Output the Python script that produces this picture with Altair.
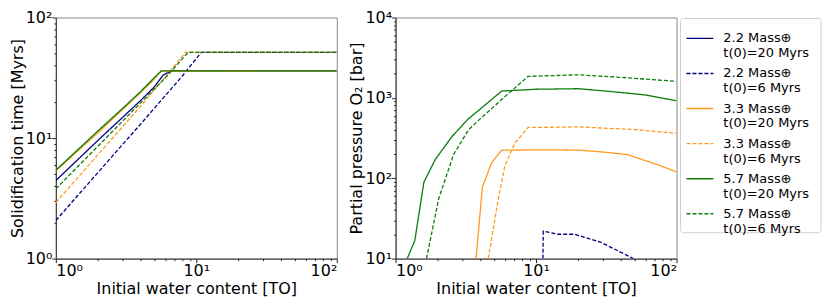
import altair as alt
import pandas as pd

# ---- series definitions ----
series = [
    "2.2 Mass⊕\n\u00a0t(0)=20 Myrs",
    "2.2 Mass⊕\n\u00a0t(0)=6 Myrs",
    "3.3 Mass⊕\n\u00a0t(0)=20 Myrs",
    "3.3 Mass⊕\n\u00a0t(0)=6 Myrs",
    "5.7 Mass⊕\n\u00a0t(0)=20 Myrs",
    "5.7 Mass⊕\n\u00a0t(0)=6 Myrs",
]
colors = ["#000080", "#000080", "#ff9a1f", "#ff9a1f", "#0a7d0a", "#0a7d0a"]
dashes = [[1, 0], [4, 2], [1, 0], [4, 2], [1, 0], [4, 2]]

# ---- left panel: solidification time [Myrs] vs initial water [TO] ----
l_b20_x = [1, 2, 3, 4, 5, 5.81, 6.65, 100]
l_b20_y = [4.44, 9.6, 14.9, 20.4, 26.4, 33.3, 36.1, 36.1]
l_b6_x = [1, 2, 4, 6, 8, 10.85, 100]
l_b6_y = [2.07, 5.2, 13.0, 22.4, 33.0, 51.4, 51.4]
l_o20_x = [1, 2, 3, 4, 5, 5.6, 100]
l_o20_y = [5.35, 11.1, 17.3, 23.8, 30.6, 35.9, 36.1]
l_o6_x = [1, 2, 4, 6, 8.41, 100]
l_o6_y = [2.92, 7.3, 18.3, 32.0, 51.6, 51.6]
l_g20_x = [1, 2, 3, 4, 5, 5.65, 100]
l_g20_y = [5.41, 11.5, 17.7, 24.2, 31.5, 36.1, 36.1]
l_g6_x = [1, 2, 4, 6, 8.74, 100]
l_g6_y = [3.79, 8.6, 19.5, 31.5, 51.4, 51.4]

# ---- right panel: partial pressure O2 [bar] ----
r_b6_x = [11.2, 11.25, 14.3, 18.8, 29.0, 49.4]
r_b6_y = [10, 22, 20.1, 20.1, 15.9, 10]
r_o20_x = [3.74, 4.15, 4.83, 5.69, 10, 20, 30, 44.7, 77, 100]
r_o20_y = [10, 78, 156, 223, 226, 224, 212, 197, 143, 120]
r_o6_x = [4.57, 5.39, 6.0, 7.06, 8.77, 20, 50, 100]
r_o6_y = [10, 56, 143, 273, 428, 435, 404, 362]
r_g20_x = [1.21, 1.37, 1.59, 1.92, 2.52, 3.3, 3.89, 4.83, 5.69, 10, 20, 34, 60, 100]
r_g20_y = [10, 16.7, 89, 172, 330, 550, 695, 955, 1216, 1280, 1300, 1200, 1087, 920]
r_g6_x = [1.66, 2.03, 2.59, 3.3, 3.89, 5.1, 5.69, 8.77, 20, 40, 100]
r_g6_y = [10, 56, 198, 398, 525, 800, 955, 1850, 1935, 1800, 1607]

x_major = [1, 10, 100]
x_minor = [2, 3, 4, 5, 6, 7, 8, 9, 20, 30, 40, 50, 60, 70, 80, 90]
yl_major = [1, 10, 100]
yl_minor = x_minor
yr_major = [10, 100, 1000, 10000]
yr_minor = [20, 30, 40, 50, 60, 70, 80, 90, 200, 300, 400, 500, 600, 700, 800, 900,
            2000, 3000, 4000, 5000, 6000, 7000, 8000, 9000]


def frame(pairs):
    rows = []
    for order, (s, xs, ys) in enumerate(pairs):
        for i, (xv, yv) in enumerate(zip(xs, ys)):
            rows.append({"series": s, "x": xv, "y": yv, "o": order, "i": i})
    return pd.DataFrame(rows)


left_df = frame([
    (series[0], l_b20_x, l_b20_y), (series[1], l_b6_x, l_b6_y),
    (series[2], l_o20_x, l_o20_y), (series[3], l_o6_x, l_o6_y),
    (series[4], l_g20_x, l_g20_y), (series[5], l_g6_x, l_g6_y),
])
right_df = frame([
    (series[1], r_b6_x, r_b6_y),
    (series[2], r_o20_x, r_o20_y), (series[3], r_o6_x, r_o6_y),
    (series[4], r_g20_x, r_g20_y), (series[5], r_g6_x, r_g6_y),
])
legend_df = pd.DataFrame({"series": series})

label_expr = ("datum.value == 1 ? '10⁰' : datum.value == 10 ? '10¹' : "
              "datum.value == 100 ? '10²' : datum.value == 1000 ? '10³' : '10⁴'")

color_scale = alt.Scale(domain=series, range=colors)
dash_scale = alt.Scale(domain=series, range=dashes)

W, H = 282, 242


def panel(df, ydom, ymajor, yminor, ytitle):
    xs = alt.Scale(type="log", domain=[1, 100], nice=False)
    ys = alt.Scale(type="log", domain=ydom, nice=False)
    lines = alt.Chart(df).mark_line(strokeWidth=1.3, clip=True).encode(
        x=alt.X("x:Q", scale=xs, title="Initial water content [TO]",
                axis=alt.Axis(values=x_major, labelExpr=label_expr, orient="bottom",
                              tickSize=4, grid=False, titlePadding=2)),
        y=alt.Y("y:Q", scale=ys, title=ytitle,
                axis=alt.Axis(values=ymajor, labelExpr=label_expr, orient="left",
                              tickSize=4, grid=False, titlePadding=0)),
        color=alt.Color("series:N", scale=color_scale, legend=None),
        strokeDash=alt.StrokeDash("series:N", scale=dash_scale, legend=None),
        order=alt.Order("i:Q"),
    )
    minor = alt.Chart(df).mark_point(opacity=0).encode(
        x=alt.X("x:Q", scale=xs,
                axis=alt.Axis(values=x_minor, labels=False, title=None, tickSize=2,
                              domain=False, grid=False, orient="bottom")),
        y=alt.Y("y:Q", scale=ys,
                axis=alt.Axis(values=yminor, labels=False, title=None, tickSize=2,
                              domain=False, grid=False, orient="left")),
    )
    return alt.layer(lines, minor).resolve_axis(x="independent", y="independent")


# ---- legend drawn beside the right panel ----
ly = alt.Y("series:N", sort=series,
           scale=alt.Scale(type="point", domain=series, range=[21, 197], padding=0),
           axis=None)
leg_box = alt.Chart(pd.DataFrame({"k": [0]})).mark_rect(
    fill="white", stroke="#d0d0d0", strokeWidth=1, cornerRadius=3
).encode(x=alt.value(286), x2=alt.value(427), y=alt.value(1), y2=alt.value(216))
leg_sym = alt.Chart(legend_df).mark_rule(strokeWidth=1.4).encode(
    x=alt.value(292), x2=alt.value(319), y=ly,
    color=alt.Color("series:N", scale=color_scale, legend=None),
    strokeDash=alt.StrokeDash("series:N", scale=dash_scale, legend=None),
)
leg_txt = alt.Chart(legend_df).mark_text(
    align="left", baseline="middle", lineBreak="\n", fontSize=13, lineHeight=15,
    font="DejaVu Sans", color="black"
).encode(x=alt.value(329), y=ly, text="series:N")
legend_layer = alt.layer(leg_box, leg_sym, leg_txt)

left = panel(left_df, [1, 100], yl_major, yl_minor, "Solidification time [Myrs]").properties(
    width=W, height=H)
right = alt.layer(
    panel(right_df, [10, 10000], yr_major, yr_minor, "Partial pressure O₂ [bar]"),
    legend_layer,
).resolve_scale(y="independent").resolve_axis(y="independent").properties(width=W, height=H)

chart = alt.hconcat(left, right, spacing=7).resolve_scale(
    color="shared", strokeDash="shared"
).properties(
    padding={"left": 0, "top": 0, "right": 0, "bottom": 0}
).configure_axis(
    labelFont="DejaVu Sans", titleFont="DejaVu Sans", labelFontSize=16, titleFontSize=16,
    titleFontWeight="normal", labelColor="black", titleColor="black",
    tickColor="#222", domainColor="#333", labelPadding=0,
).configure_view(stroke="#888")

chart.save("out.html", embed_options={"renderer": "svg", "actions": False})
